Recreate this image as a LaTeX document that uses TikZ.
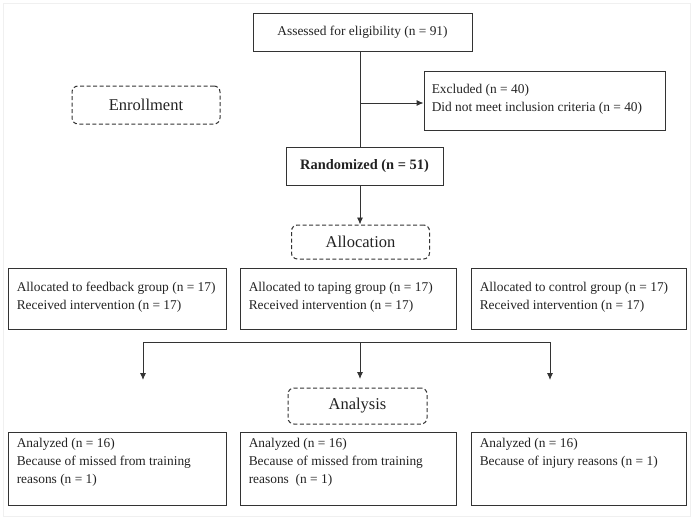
\documentclass[tikz,border=0pt]{standalone}
\usepackage{fontspec}
\setmainfont{Liberation Serif}
\usetikzlibrary{arrows.meta}
\definecolor{ln}{HTML}{333333}
\definecolor{tx}{HTML}{222222}
\tikzset{
  box/.style={draw=ln, line width=0.9pt, rectangle, inner sep=0pt},
  dbox/.style={draw=ln, line width=1pt, dash pattern=on 4pt off 2.5pt, rounded corners=6pt, inner sep=0pt, text=tx, font=\fontsize{16.5}{18}\selectfont},
  txt/.style={text=tx, align=left, inner sep=0pt, anchor=north west, font=\fontsize{13.4}{18}\selectfont},
  conn/.style={draw=ln, line width=0.9pt},
  arr/.style={conn, -{Latex[length=7pt,width=6pt]}},
}
\begin{document}
\begin{tikzpicture}[x=1pt,y=-1pt]
\useasboundingbox (0,0) rectangle (693,519);
\draw[gray!12, line width=0.6pt] (3,3) rectangle (690,516);
% enrollment
\node[box, minimum width=219pt, minimum height=38pt, text=tx, font=\fontsize{13.4}{16}\selectfont] (assess) at (362.5,32) {Assessed for eligibility (n = 91)};
\node[box, minimum width=241pt, minimum height=59pt] (excl) at (544.5,100.5) {};
\node[txt] (excltxt) at ([shift={(8,13)}]excl.north west) {Excluded (n = 40)\\Did not meet inclusion criteria (n = 40)};
\node[dbox, minimum width=148pt, minimum height=38pt] (enroll) at (146,105) {Enrollment};
\node[box, minimum width=157pt, minimum height=38pt, text=tx, font=\fontsize{14.4}{16}\selectfont\bfseries] (rand) at (364.5,166.5) {Randomized (n = 51)};
\coordinate (split) at (360,103);
\draw[conn] (assess.south -| split) -- (rand.north -| split);
\draw[arr] (split) -- (excl.west |- split);
% allocation
\node[dbox, minimum width=138pt, minimum height=34pt] (alloc) at (360.5,242) {Allocation};
\draw[arr] (rand.south -| split) -- (alloc.north -| split);
\node[box, minimum width=218pt, minimum height=61pt] (a1) at (117,298.5) {};
\node[box, minimum width=216pt, minimum height=61pt] (a2) at (348,298.5) {};
\node[box, minimum width=215pt, minimum height=61pt] (a3) at (578.5,298.5) {};
\node[txt] (a1t) at ([shift={(9,14)}]a1.north west) {Allocated to feedback group (n = 17)\\Received intervention (n = 17)};
\node[txt] (a2t) at ([shift={(9,14)}]a2.north west) {Allocated to taping group (n = 17)\\Received intervention (n = 17)};
\node[txt] (a3t) at ([shift={(9,14)}]a3.north west) {Allocated to control group (n = 17)\\Received intervention (n = 17)};
% branches
\coordinate (bl) at (143,342);
\coordinate (bm) at (360,342);
\coordinate (br) at (550,342);
\coordinate (el) at (143,380);
\coordinate (em) at (360,379);
\coordinate (er) at (550,380);
\draw[conn] (bl) -- (br);
\draw[arr] (bl) -- (el);
\draw[arr] (bm) -- (em);
\draw[arr] (br) -- (er);
% analysis
\node[dbox, minimum width=139pt, minimum height=36pt] (anal) at (357.5,406) {Analysis};
\node[box, minimum width=218pt, minimum height=73pt] (n1) at (117,468.5) {};
\node[box, minimum width=216pt, minimum height=73pt] (n2) at (348,468.5) {};
\node[box, minimum width=215pt, minimum height=73pt] (n3) at (578.5,468.5) {};
\node[txt] (n1t) at ([shift={(9,6)}]n1.north west) {Analyzed (n = 16)\\Because of missed from training\\reasons (n = 1)};
\node[txt] (n2t) at ([shift={(9,6)}]n2.north west) {Analyzed (n = 16)\\Because of missed from training\\reasons\ \ (n = 1)};
\node[txt] (n3t) at ([shift={(9,6)}]n3.north west) {Analyzed (n = 16)\\Because of injury reasons (n = 1)};
\end{tikzpicture}
\end{document}
